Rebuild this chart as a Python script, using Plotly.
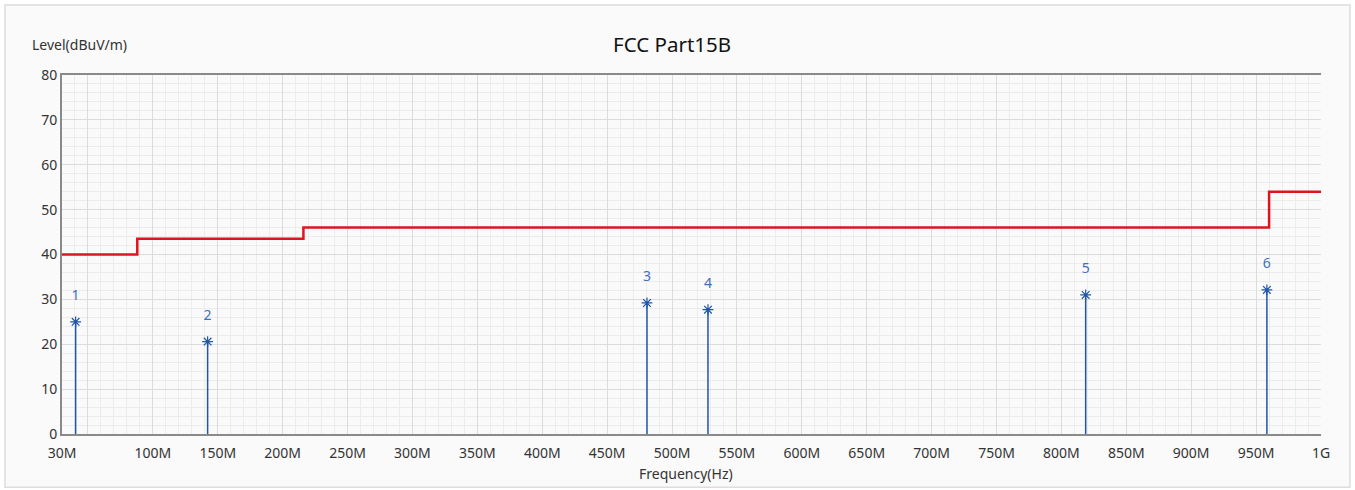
import plotly.graph_objects as go

# Limit line (FCC Part15B), frequency in MHz
limit_freq = [30, 88, 88, 216, 216, 960, 960, 1000]
limit_level = [40, 40, 43.5, 43.5, 46, 46, 54, 54]

# Measured peaks
peak_labels = ["1", "2", "3", "4", "5", "6"]
peak_freq = [40.5, 142.2, 480.7, 527.7, 818.7, 958.3]
peak_level = [25.0, 20.6, 29.2, 27.7, 31.0, 32.1]

x_tickvals = [30, 50, 100, 150, 200, 250, 300, 350, 400, 450, 500, 550, 600,
              650, 700, 750, 800, 850, 900, 950, 1000]
x_ticktext = ["30M", "", "100M", "150M", "200M", "250M", "300M", "350M", "400M",
              "450M", "500M", "550M", "600M", "650M", "700M", "750M", "800M",
              "850M", "900M", "950M", "1G"]

stem_x, stem_y = [], []
for f, v in zip(peak_freq, peak_level):
    stem_x += [f, f, None]
    stem_y += [0, v, None]

FONT = "Noto Sans"
fig = go.Figure()
fig.add_trace(go.Scatter(x=limit_freq, y=limit_level, mode="lines",
                         line=dict(color="#e0141e", width=2.5), hoverinfo="skip"))
fig.add_trace(go.Scatter(x=stem_x, y=stem_y, mode="lines",
                         line=dict(color="#1f55aa", width=1.5), hoverinfo="skip"))
fig.add_trace(go.Scatter(x=peak_freq, y=peak_level, mode="markers",
                         marker=dict(symbol="asterisk-open", size=9, color="#1f55aa",
                                     line=dict(color="#1f55aa", width=1.2)),
                         hoverinfo="skip"))
fig.add_trace(go.Scatter(x=peak_freq, y=peak_level, mode="text", text=peak_labels,
                         texttemplate="%{text}<br> ",
                         textposition="top center",
                         textfont=dict(color="#3f6fc4", size=14, family=FONT),
                         hoverinfo="skip"))

fig.update_layout(
    width=1355, height=490,
    margin=dict(l=62, r=34, t=75, b=56),
    paper_bgcolor="white", plot_bgcolor="white",
    showlegend=False,
    font=dict(family=FONT, size=14, color="#333333"),
    title=dict(text="FCC Part15B", x=0.496, xanchor="center", y=0.908, yanchor="middle",
               font=dict(size=20.5, color="#111111")),
    shapes=[dict(type="rect", xref="paper", yref="paper", x0=-0.0453, x1=1.023,
                 y0=-0.148, y1=1.195, layer="below",
                 line=dict(color="#dddddd", width=1.5), fillcolor="#fafafa")],
    annotations=[
        dict(text="Level(dBuV/m)", xref="paper", yref="paper", x=-0.0254, y=1.0836,
             xanchor="left", yanchor="middle", showarrow=False,
             font=dict(size=14, color="#333333")),
        dict(text="Frequency(Hz)", xref="paper", yref="paper", x=0.496, y=-0.111,
             xanchor="center", yanchor="middle", showarrow=False,
             font=dict(size=14, color="#333333")),
    ],
)
fig.update_xaxes(range=[30, 1000], tickmode="array", tickvals=x_tickvals,
                 ticktext=x_ticktext, showgrid=True, gridcolor="#dcdcdc", gridwidth=1,
                 minor=dict(dtick=10, tick0=0, showgrid=True, gridcolor="#ececec", gridwidth=1),
                 showline=True, linecolor="#8a8a8a", linewidth=2, mirror=True,
                 ticks="", ticklabelstandoff=5, zeroline=False,
                 tickfont=dict(size=14, color="#333333"))
fig.update_yaxes(range=[0, 80], dtick=10, showgrid=True, gridcolor="#dcdcdc", gridwidth=1,
                 minor=dict(dtick=2, showgrid=True, gridcolor="#ececec", gridwidth=1),
                 showline=True, linecolor="#8a8a8a", linewidth=2,
                 ticks="", zeroline=False, tickfont=dict(size=14, color="#333333"))

fig.write_html("out.html", config={"displayModeBar": False},
               post_script="document.body.style.margin='0';document.body.style.overflow='hidden';")
